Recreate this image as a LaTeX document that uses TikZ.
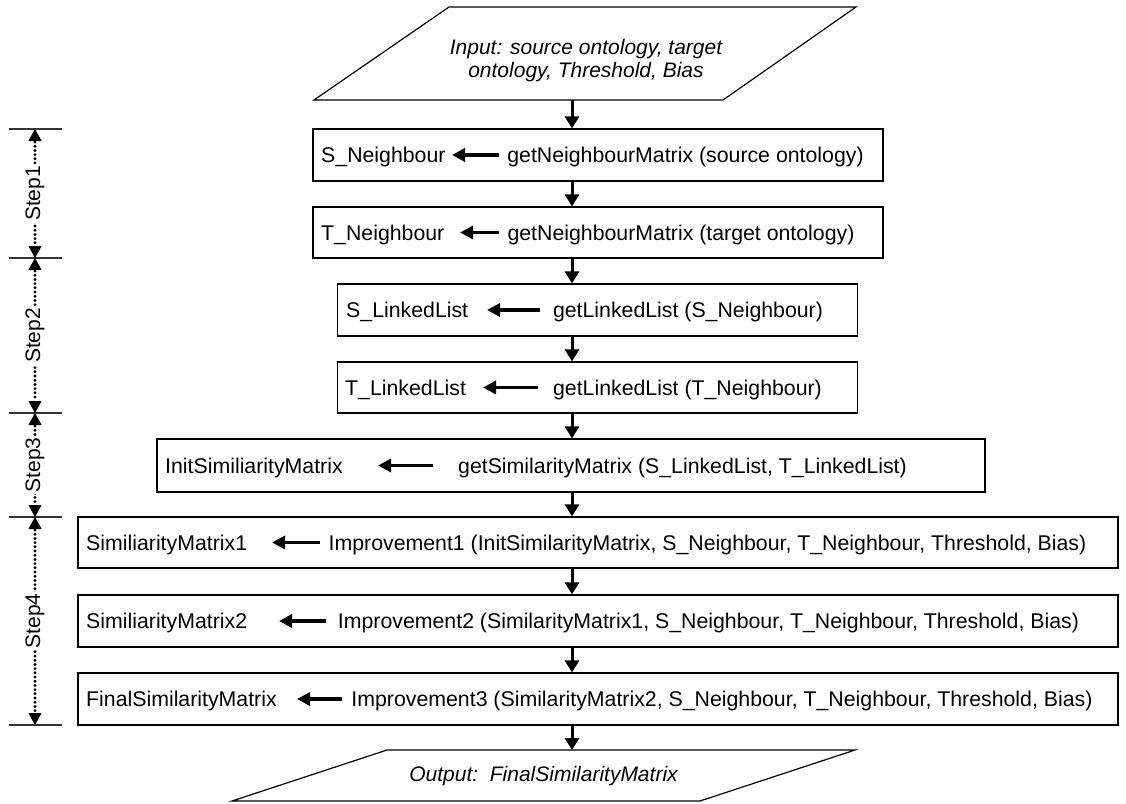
\documentclass[tikz,border=0pt]{standalone}
\usepackage{fontspec}
\setmainfont{Liberation Sans}
\usetikzlibrary{arrows.meta,calc}
\begin{document}
\begin{tikzpicture}[x=1pt,y=-1pt,
  box/.style={draw,line width=1.2pt,inner sep=0pt},
  lt/.style={font=\fontsize{21.3}{25}\selectfont,inner sep=0pt,anchor=base west},
  rt/.style={font=\fontsize{21.3}{25}\selectfont,inner sep=0pt,anchor=base},
  io/.style={font=\fontsize{21}{23}\selectfont\itshape,inner sep=0pt,align=center},
  varrow/.style={line width=3pt,-{Triangle[length=12pt,width=14pt]}},
  harrow/.style={line width=3.3pt,-{Triangle[length=13pt,width=13pt]}},
  para/.style={line width=1.2pt,line join=miter},
  tick/.style={line width=1.2pt,black!80},
  dimline/.style={line width=3.2pt,dash pattern=on 0pt off 4.2pt,line cap=round},
  dimhead/.style={-{Triangle[length=12pt,width=13pt]},line width=0.8pt},
  steplbl/.style={font=\fontsize{21}{24}\selectfont,rotate=90,fill=white,inner sep=2pt}]
\useasboundingbox (0,0) rectangle (1126,803);
\coordinate (ax) at (572,0);
% input parallelogram
\coordinate (i1) at (449,7);
\coordinate (i2) at (856,7);
\coordinate (i3) at (723,100);
\coordinate (i4) at (314,100);
\draw[para] (i1) -- (i2) -- (i3) -- (i4) -- cycle;
\node[io] (intext) at (586,61) {Input: source ontology, target\\ontology, Threshold, Bias};
% boxes
\node[box,minimum width=570pt,minimum height=52pt] (b1) at (598,155) {};
\node[box,minimum width=570pt,minimum height=51pt] (b2) at (598,232.5) {};
\node[box,minimum width=520pt,minimum height=52pt] (b3) at (597.5,310) {};
\node[box,minimum width=520pt,minimum height=51pt] (b4) at (597.5,387.5) {};
\node[box,minimum width=828pt,minimum height=53pt] (b5) at (571,465.5) {};
\node[box,minimum width=1040pt,minimum height=51pt] (b6) at (598,542.5) {};
\node[box,minimum width=1040pt,minimum height=52pt] (b7) at (598,621) {};
\node[box,minimum width=1040pt,minimum height=52pt] (b8) at (598,699) {};
% output parallelogram
\coordinate (o1) at (387,750);
\coordinate (o2) at (855,750);
\coordinate (o3) at (700,801);
\coordinate (o4) at (232,801);
\draw[para] (o1) -- (o2) -- (o3) -- (o4) -- cycle;
\node[io] (outtext) at (543.5,776) {Output:\ \ FinalSimilarityMatrix};
% texts in boxes
\node[lt] (l1) at (321,162.5) {S\_Neighbour};
\node[rt] (r1) at (685.5,162.5) {getNeighbourMatrix (source ontology)};
\coordinate (a1t) at (499,155); \coordinate (a1h) at (452,155);
\node[lt] (l2) at (321,240) {T\_Neighbour};
\node[rt] (r2) at (681,240) {getNeighbourMatrix (target ontology)};
\coordinate (a2t) at (499,232.5); \coordinate (a2h) at (460,232.5);
\node[lt] (l3) at (346,317.5) {S\_LinkedList};
\node[rt] (r3) at (688,317.5) {getLinkedList (S\_Neighbour)};
\coordinate (a3t) at (540,310); \coordinate (a3h) at (487,310);
\node[lt] (l4) at (345,395) {T\_LinkedList};
\node[rt] (r4) at (687.5,395) {getLinkedList (T\_Neighbour)};
\coordinate (a4t) at (538,387.5); \coordinate (a4h) at (483,387.5);
\node[lt] (l5) at (165,473) {InitSimiliarityMatrix};
\node[rt] (r5) at (682.5,473) {getSimilarityMatrix (S\_LinkedList, T\_LinkedList)};
\coordinate (a5t) at (433,465.5); \coordinate (a5h) at (378,465.5);
\node[lt] (l6) at (86,550) {SimiliarityMatrix1};
\node[rt] (r6) at (707.5,550) {Improvement1 (InitSimilarityMatrix, S\_Neighbour, T\_Neighbour, Threshold, Bias)};
\coordinate (a6t) at (320,542.5); \coordinate (a6h) at (272,542.5);
\node[lt] (l7) at (86,628.5) {SimiliarityMatrix2};
\node[rt] (r7) at (708.5,628.5) {Improvement2 (SimilarityMatrix1, S\_Neighbour, T\_Neighbour, Threshold, Bias)};
\coordinate (a7t) at (326,621); \coordinate (a7h) at (279,621);
\node[lt] (l8) at (86,706.5) {FinalSimilarityMatrix};
\node[rt] (r8) at (722,706.5) {Improvement3 (SimilarityMatrix2, S\_Neighbour, T\_Neighbour, Threshold, Bias)};
\coordinate (a8t) at (342,699); \coordinate (a8h) at (297,699);
\foreach \i in {1,...,8} {\draw[harrow] (a\i t) -- (a\i h);}
% vertical arrows
\draw[varrow] (i4 -| ax) -- (b1.north -| ax);
\draw[varrow] (b1.south -| ax) -- (b2.north -| ax);
\draw[varrow] (b2.south -| ax) -- (b3.north -| ax);
\draw[varrow] (b3.south -| ax) -- (b4.north -| ax);
\draw[varrow] (b4.south -| ax) -- (b5.north -| ax);
\draw[varrow] (b5.south -| ax) -- (b6.north -| ax);
\draw[varrow] (b6.south -| ax) -- (b7.north -| ax);
\draw[varrow] (b7.south -| ax) -- (b8.north -| ax);
\draw[varrow] (b8.south -| ax) -- (o1 -| ax);
% step annotation
\foreach \n/\y in {s0/129,s1/258,s2/413,s3/517,s4/725} {
  \coordinate (\n L) at (9,\y); \coordinate (\n R) at (62,\y); \coordinate (\n) at (35,\y);
  \draw[tick] (\n L) -- (\n R);
}
\foreach \a/\b/\t in {s0/s1/Step1,s1/s2/Step2,s2/s3/Step3,s3/s4/Step4} {
  \draw[dimline] ($(\a)+(0,13)$) -- ($(\b)+(0,-13)$);
  \draw[dimhead] ($(\a)+(0,12)$) -- (\a);
  \draw[dimhead] ($(\b)+(0,-12)$) -- (\b);
  \node[steplbl] (\t) at ($(\a)!0.5!(\b)$) {\t};
}
\end{tikzpicture}
\end{document}
